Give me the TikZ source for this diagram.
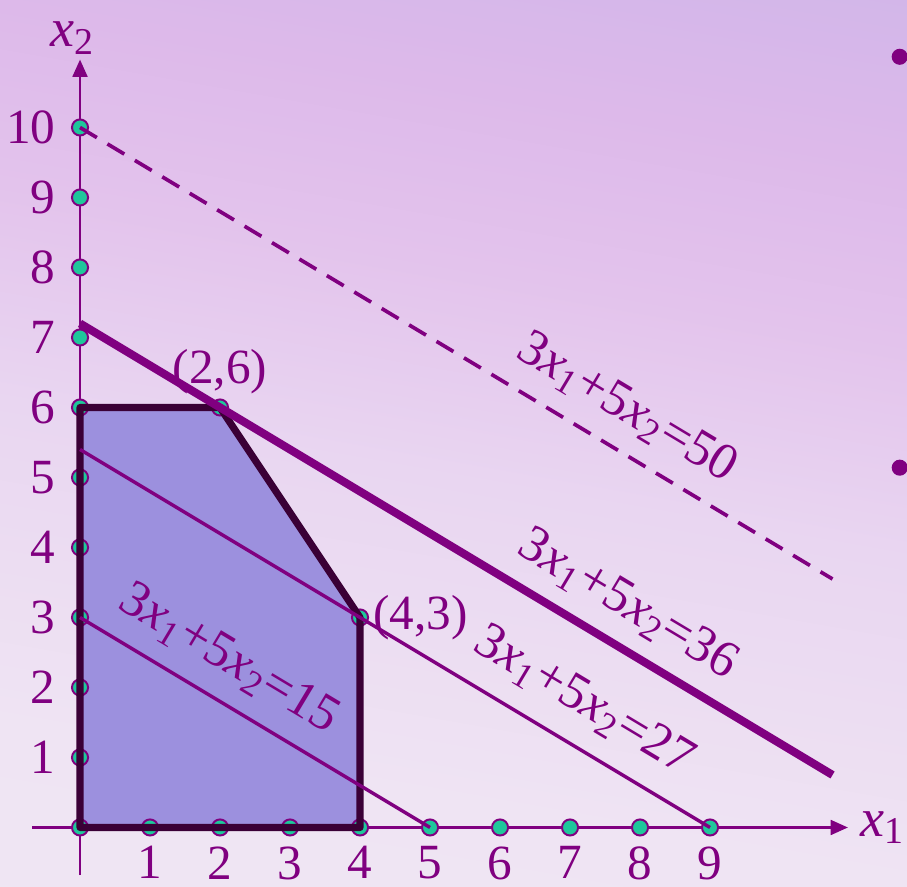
\documentclass[tikz,border=0pt]{standalone}
\usepackage{fontspec}
\setmainfont{Liberation Serif}
\usetikzlibrary{arrows.meta}
\usetikzlibrary{positioning}
\definecolor{lpPurple}{HTML}{800080}
\definecolor{lpTeal}{HTML}{1FC79B}
\definecolor{lpRegion}{HTML}{9C90DE}
\definecolor{lpEdge}{HTML}{3A0036}
\definecolor{bgA}{HTML}{F0E9F2}
\definecolor{bgB}{HTML}{EFE4F3}
\definecolor{bgC}{HTML}{E9D6F1}
\definecolor{bgD}{HTML}{E3C3EC}
\definecolor{bgE}{HTML}{DDB9EA}
\definecolor{bgF}{HTML}{CDB5E9}
\definecolor{bgG}{HTML}{C4B4E8}
\pgfdeclareverticalshading{bgwash}{100bp}{%
  color(0bp)=(bgA);
  color(30bp)=(bgB);
  color(48bp)=(bgC);
  color(60bp)=(bgD);
  color(70bp)=(bgE);
  color(84bp)=(bgF);
  color(100bp)=(bgG)}
\newcommand{\xv}[1]{\textit{x}\textsubscript{#1}}

\begin{document}
\begin{tikzpicture}
                % background
                \useasboundingbox (-1.143,-0.836) rectangle (11.814,11.821);
                \shade[shading=bgwash, shading angle=-10] (-1.143,-0.836) rectangle (11.814,11.821);

                % feasible region
                \coordinate (v26) at (2,6);
                \coordinate (v43) at (4,3);
                \fill[lpRegion] (0,0) -- (0,6) -- (v26) -- (v43) -- (4,0) -- cycle;

                % axes
                \coordinate (xa) at (-0.68,0);
                \coordinate (xb) at (10.97,0);
                \coordinate (ya) at (0,-0.68);
                \coordinate (yb) at (0,10.97);
                \draw[color=lpPurple, line width=1pt, -{Triangle[length=7pt,width=6pt]}] (xa) -- (xb);
                \draw[color=lpPurple, line width=1pt, -{Triangle[length=7pt,width=6pt]}] (ya) -- (yb);
                \node[right=0.05 of xb, color=lpPurple, font=\fontsize{22}{26}\selectfont] (lx1) {\xv{1}};
                \node[above=-0.05 of yb, xshift=-0.1cm, color=lpPurple, font=\fontsize{22}{26}\selectfont] (lx2) {\xv{2}};

                % lattice points
                \tikzset{pt/.style={circle, draw=lpPurple, fill=lpTeal, line width=0.8pt, minimum size=0.23cm, inner sep=0pt}}
                \node[pt] (o) at (0,0) {};
                \foreach \i in {1,...,9} {
                    \node[pt] (x\i) at (\i,0) {};
                    \node[below=0.1 of x\i, inner sep=1pt, color=lpPurple, font=\fontsize{20}{24}\selectfont] {\i};
                }
                \foreach \i in {1,...,10} {
                    \node[pt] (y\i) at (0,\i) {};
                    \node[left=0.18 of y\i, inner sep=1pt, color=lpPurple, font=\fontsize{20}{24}\selectfont] {\i};
                }
                \node[pt] (p26) at (v26) {};
                \node[pt] (p43) at (v43) {};

                \draw[color=lpEdge, line width=2.9pt, line join=round] (o.center) -- (y6.center) -- (p26.center) -- (p43.center) -- (x4.center) -- cycle;

                % level lines 3x1+5x2=c
                \coordinate (c27) at (0,5.4);
                \coordinate (c36a) at (0,7.2);
                \coordinate (c36b) at (10.75,0.75);
                \coordinate (c50) at (10.75,3.55);
                \draw[color=lpPurple, line width=1.4pt] (y3.center) -- (x5.center);
                \draw[color=lpPurple, line width=1.4pt] (c27) -- (x9.center);
                \draw[color=lpPurple, line width=3.3pt] (c36a) -- (c36b);
                \draw[color=lpPurple, line width=1.5pt, dash pattern=on 8pt off 5pt] (y10.center) -- (c50);

                \node[above=0.02 of p26, inner sep=1pt, color=lpPurple, font=\fontsize{20}{24}\selectfont] (l26) {(2,6)};
                \node[right=0.02 of p43, inner sep=1pt, color=lpPurple, font=\fontsize{20}{24}\selectfont] (l43) {(4,3)};

                \node[rotate=-30.96, color=lpPurple, font=\fontsize{21}{25}\selectfont] (l15) at (2.13,2.4) {3\xv{1}+5\xv{2}=15};
                \node[rotate=-30.96, color=lpPurple, font=\fontsize{21}{25}\selectfont] (l27) at (7.2,1.8) {3\xv{1}+5\xv{2}=27};
                \node[rotate=-30.96, color=lpPurple, font=\fontsize{21}{25}\selectfont] (l36) at (7.83,3.18) {3\xv{1}+5\xv{2}=36};
                \node[rotate=-30.96, color=lpPurple, font=\fontsize{21}{25}\selectfont] (l50) at (7.81,5.99) {3\xv{1}+5\xv{2}=50};

                % slide bullets
                \fill[lpPurple] (11.71,11.01) circle (0.115);
                \fill[lpPurple] (11.71,5.14) circle (0.115);

\end{tikzpicture}
\end{document}
